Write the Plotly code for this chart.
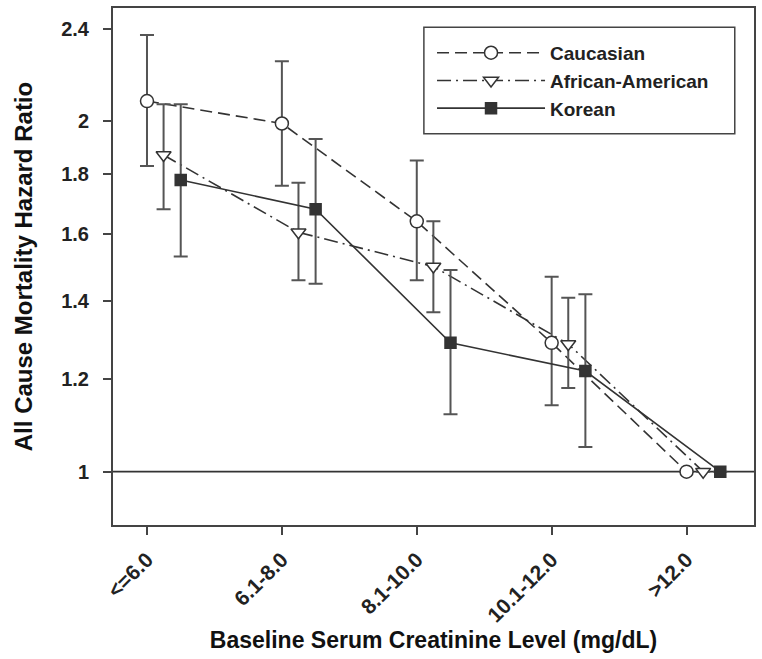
import plotly.graph_objects as go

# ---- data ----
categories = ["<=6.0", "6.1-8.0", "8.1-10.0", "10.1-12.0", ">12.0"]

caucasian_hr = [2.08, 1.99, 1.64, 1.29, 1.00]
caucasian_hi = [2.37, 2.25, 1.85, 1.47, 1.00]
caucasian_lo = [1.83, 1.76, 1.46, 1.14, 1.00]

african_hr = [1.87, 1.605, 1.50, 1.287, 1.00]
african_hi = [2.067, 1.77, 1.64, 1.41, 1.00]
african_lo = [1.68, 1.46, 1.37, 1.18, 1.00]

korean_hr = [1.78, 1.68, 1.29, 1.22, 1.00]
korean_hi = [2.067, 1.93, 1.49, 1.42, 1.00]
korean_lo = [1.53, 1.45, 1.12, 1.05, 1.00]

y_ticks = [1, 1.2, 1.4, 1.6, 1.8, 2, 2.4]
y_tick_text = ["1", "1.2", "1.4", "1.6", "1.8", "2", "2.4"]

# ---- styling ----
FONT = "Liberation Sans, Arial, sans-serif"
DARK = "#333333"
ERR = "#555555"

idx = list(range(len(categories)))


def series(name, hr, hi, lo, offset, dash, symbol, mfill, msize):
    return go.Scatter(
        x=[i + offset for i in idx],
        y=hr,
        name=name,
        mode="lines+markers",
        line=dict(color=DARK, width=1.6, dash=dash),
        marker=dict(symbol=symbol, size=msize, color=mfill,
                    line=dict(color=DARK, width=1.5)),
        error_y=dict(type="data", symmetric=False,
                     array=[h - v for h, v in zip(hi, hr)],
                     arrayminus=[v - l for v, l in zip(hr, lo)],
                     color=ERR, thickness=2, width=7),
    )


fig = go.Figure()
fig.add_trace(series("Caucasian", caucasian_hr, caucasian_hi, caucasian_lo,
                     0.0, "12px,6px", "circle", "white", 13))
fig.add_trace(series("African-American", african_hr, african_hi, african_lo,
                     0.123, "14px,5px,2px,5px", "triangle-down", "white", 13))
fig.add_trace(series("Korean", korean_hr, korean_hi, korean_lo,
                     0.25, "solid", "square", DARK, 11))

# reference line at HR = 1
fig.add_shape(type="line", xref="paper", x0=0, x1=1, yref="y", y0=1, y1=1,
              line=dict(color=DARK, width=1.6), layer="below")

# legend frame
fig.add_shape(type="rect", xref="paper", yref="paper",
              x0=0.485, x1=0.970, y0=0.757, y1=0.963,
              line=dict(color="#444444", width=1.5), fillcolor="white",
              layer="below")

fig.update_layout(
    width=762, height=659,
    margin=dict(l=113, r=8, t=6, b=134),
    paper_bgcolor="white", plot_bgcolor="white",
    font=dict(family=FONT, color="#222222"),
    showlegend=True,
    legend=dict(
        x=0.4977, y=0.859, xanchor="left", yanchor="middle",
        borderwidth=0, bgcolor="rgba(0,0,0,0)",
        font=dict(size=19, family=FONT, weight="bold", color="#222222"),
        itemwidth=108, tracegroupgap=0,
    ),
)

fig.update_xaxes(
    range=[-0.252, 4.5],
    tickmode="array", tickvals=idx, ticktext=categories,
    tickangle=-45,
    tickfont=dict(size=21, family=FONT, weight="bold", color="#222222"),
    ticks="outside", ticklen=8, tickwidth=1.5, tickcolor="#444444",
    ticklabelstandoff=4,
    showline=True, linecolor="#444444", linewidth=2, mirror=True,
    showgrid=False, zeroline=False,
    title=dict(text="Baseline Serum Creatinine Level (mg/dL)",
               font=dict(size=23, family=FONT, weight="bold", color="#111111"),
               standoff=6),
)

fig.update_yaxes(
    type="log",
    range=[-0.0458, 0.398],
    tickmode="array", tickvals=y_ticks, ticktext=y_tick_text,
    tickfont=dict(size=20, family=FONT, weight="bold", color="#222222"),
    ticks="outside", ticklen=8, tickwidth=1.5, tickcolor="#444444",
    ticklabelstandoff=10,
    showline=True, linecolor="#444444", linewidth=2, mirror=True,
    showgrid=False, zeroline=False,
    title=dict(text="All Cause Mortality Hazard Ratio",
               font=dict(size=24, family=FONT, weight="bold", color="#111111"),
               standoff=22),
)

fig.write_html("out.html", config={"displayModeBar": False},
               post_script="document.body.style.margin='0px';")
